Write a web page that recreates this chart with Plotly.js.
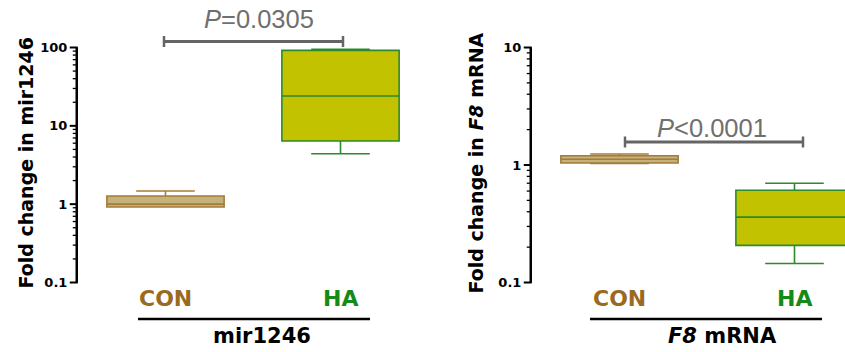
<!DOCTYPE html>
<html>
<head>
<meta charset="utf-8">
<script src="https://cdn.plot.ly/plotly-3.0.1.min.js"></script>
<style>html,body{margin:0;padding:0;background:#fff;}#chart{width:845px;height:352px;}</style>
</head>
<body>
<div id="chart"></div>
<script>
// ---- data ----
const groups = ['CON', 'HA'];
// Left panel: mir1246 fold change
const mirQ1 = [0.92, 6.4];
const mirMedian = [1.0, 24];
const mirQ3 = [1.27, 92];
const mirLow = [0.92, 4.4];
const mirHigh = [1.47, 95];
// Right panel: F8 mRNA fold change
const f8Q1 = [1.04, 0.207];
const f8Median = [1.12, 0.36];
const f8Q3 = [1.2, 0.61];
const f8Low = [1.03, 0.145];
const f8High = [1.24, 0.70];
const leftTicks = [0.1, 1, 10, 100];
const rightTicks = [0.1, 1, 10];
const leftMinor = [0.2, 0.3, 0.4, 0.5, 0.6, 0.7, 0.8, 0.9, 2, 3, 4, 5, 6, 7, 8, 9, 20, 30, 40, 50, 60, 70, 80, 90];
const rightMinor = [0.2, 0.3, 0.4, 0.5, 0.6, 0.7, 0.8, 0.9, 2, 3, 4, 5, 6, 7, 8, 9];
const pLeft = '<i>P</i>=0.0305';
const pRight = '<i>P</i>&lt;0.0001';

// ---- styles ----
const W = 845, H = 352;
const px = v => v / W;
const py = v => 1 - v / H;
const fills = ['#C3B37B', '#C2C200'];
const lines = ['#A67A3A', '#2C8A2C'];
const labelColors = ['#9B6A22', '#168A16'];
const boldFont = 'DejaVu Sans, Verdana, sans-serif';
const regFont = 'Liberation Sans, Arial, sans-serif';
const leftRange = [-1, 2];
const rightRange = [-1, 1];

function boxTrace(i, q1, med, q3, lo, hi, xa, ya) {
  return {
    type: 'box', x: [groups[i]], q1: [q1[i]], median: [med[i]], q3: [q3[i]],
    lowerfence: [lo[i]], upperfence: [hi[i]],
    boxpoints: false, width: 0.67, whiskerwidth: 0.5,
    fillcolor: fills[i], line: {color: lines[i], width: 1.6},
    xaxis: xa, yaxis: ya, showlegend: false, hoverinfo: 'skip'
  };
}

const data = [
  boxTrace(0, mirQ1, mirMedian, mirQ3, mirLow, mirHigh, 'x', 'y'),
  boxTrace(1, mirQ1, mirMedian, mirQ3, mirLow, mirHigh, 'x', 'y'),
  boxTrace(0, f8Q1, f8Median, f8Q3, f8Low, f8High, 'x2', 'y2'),
  boxTrace(1, f8Q1, f8Median, f8Q3, f8Low, f8High, 'x2', 'y2')
];

const yDomain = [py(282.5), py(47.5)];
function yAxis(range, anchor, ticks) {
  return {
    type: 'log', range: range, domain: yDomain, anchor: anchor,
    showline: false,
    ticks: 'outside', ticklen: 7, tickwidth: 2, tickcolor: 'rgba(0,0,0,0)',
    tickmode: 'array', tickvals: ticks, ticktext: ticks.map(String),
    tickfont: {family: boldFont, size: 13, color: '#000', weight: 'bold'},
    showgrid: false, zeroline: false, fixedrange: true
  };
}
function xAxis(domain, range, anchor) {
  return {
    type: 'category', categoryorder: 'array', categoryarray: groups,
    domain: domain, range: range, anchor: anchor,
    showline: false, showticklabels: false, ticks: '', showgrid: false, zeroline: false, fixedrange: true
  };
}

const annotations = [];
// y titles
annotations.push({xref: 'paper', yref: 'paper', x: px(25), y: py(163.5), text: 'Fold change in mir1246',
  textangle: -90, showarrow: false, xanchor: 'center', yanchor: 'middle',
  font: {family: boldFont, size: 19, color: '#000', weight: 'bold'}});
annotations.push({xref: 'paper', yref: 'paper', x: px(475), y: py(163.5), text: 'Fold change in <i>F8</i> mRNA',
  textangle: -90, showarrow: false, xanchor: 'center', yanchor: 'middle',
  font: {family: boldFont, size: 19, color: '#000', weight: 'bold'}});
// category labels
['x', 'x2'].forEach(xa => {
  groups.forEach((g, i) => {
    annotations.push({xref: xa, yref: 'paper', x: g, y: py(298), text: g, showarrow: false,
      xanchor: 'center', yanchor: 'middle',
      font: {family: boldFont, size: 22, color: labelColors[i], weight: 'bold'}});
  });
});
// group titles
annotations.push({xref: 'paper', yref: 'paper', x: px(261.5), y: py(336), text: 'mir1246', showarrow: false,
  xanchor: 'center', yanchor: 'middle', font: {family: boldFont, size: 21, color: '#000', weight: 'bold'}});
annotations.push({xref: 'paper', yref: 'paper', x: px(722), y: py(336), text: '<i>F8</i> mRNA', showarrow: false,
  xanchor: 'center', yanchor: 'middle', font: {family: boldFont, size: 21, color: '#000', weight: 'bold'}});
// p-values
annotations.push({xref: 'paper', yref: 'paper', x: px(259), y: py(19), text: pLeft, showarrow: false,
  xanchor: 'center', yanchor: 'middle', font: {family: regFont, size: 25.5, color: '#6f6f6f'}});
annotations.push({xref: 'paper', yref: 'paper', x: px(712), y: py(127.5), text: pRight, showarrow: false,
  xanchor: 'center', yanchor: 'middle', font: {family: regFont, size: 25.5, color: '#6f6f6f'}});

function bracket(x0, x1, y, h) {
  const c = '#656565';
  return [
    {type: 'line', xref: 'paper', yref: 'paper', x0: px(x0), x1: px(x1), y0: py(y), y1: py(y), line: {color: c, width: 3}},
    {type: 'line', xref: 'paper', yref: 'paper', x0: px(x0), x1: px(x0), y0: py(y - h), y1: py(y + h), line: {color: c, width: 2.5}},
    {type: 'line', xref: 'paper', yref: 'paper', x0: px(x1), x1: px(x1), y0: py(y - h), y1: py(y + h), line: {color: c, width: 2.5}}
  ];
}
// axis spine + major/minor ticks, positioned with the same log scale as the axis (range -> domain)
function spine(xPix, range, ticks, minorTicks) {
  const toPaper = t => yDomain[0] + (Math.log10(t) - range[0]) / (range[1] - range[0]) * (yDomain[1] - yDomain[0]);
  const out = [];
  out.push({type: 'line', xref: 'paper', yref: 'paper', x0: px(xPix), x1: px(xPix),
    y0: toPaper(ticks[0]), y1: toPaper(ticks[ticks.length - 1]), line: {color: '#000', width: 2.5}});
  ticks.forEach(t => out.push({type: 'line', xref: 'paper', yref: 'paper', x0: px(xPix - 7), x1: px(xPix + 1),
    y0: toPaper(t), y1: toPaper(t), line: {color: '#000', width: 2}}));
  minorTicks.forEach(t => out.push({type: 'line', xref: 'paper', yref: 'paper', x0: px(xPix - 4), x1: px(xPix),
    y0: toPaper(t), y1: toPaper(t), line: {color: '#000', width: 1.3}}));
  return out;
}
const shapes = [].concat(
  spine(76.75, leftRange, leftTicks, leftMinor),
  spine(530.75, rightRange, rightTicks, rightMinor),
  bracket(164, 343, 41.5, 5.5),
  bracket(625, 803, 142, 5.5),
  [
    {type: 'line', xref: 'paper', yref: 'paper', x0: px(138), x1: px(370), y0: py(319), y1: py(319), line: {color: '#000', width: 2.5}},
    {type: 'line', xref: 'paper', yref: 'paper', x0: px(590), x1: px(822), y0: py(319), y1: py(319), line: {color: '#000', width: 2.5}}
  ]
);

const layout = {
  width: W, height: H, margin: {l: 0, r: 0, t: 0, b: 0},
  paper_bgcolor: '#fff', plot_bgcolor: 'rgba(0,0,0,0)', showlegend: false,
  xaxis: xAxis([px(78), px(428)], [-0.5, 1.5], 'y'),
  yaxis: yAxis(leftRange, 'x', leftTicks),
  xaxis2: xAxis([px(532), 1], [-0.5, (845 - 532) / 175 - 0.5], 'y2'),
  yaxis2: yAxis(rightRange, 'x2', rightTicks),
  annotations: annotations, shapes: shapes
};

Plotly.newPlot('chart', data, layout, {staticPlot: true, displayModeBar: false});
</script>
</body>
</html>
